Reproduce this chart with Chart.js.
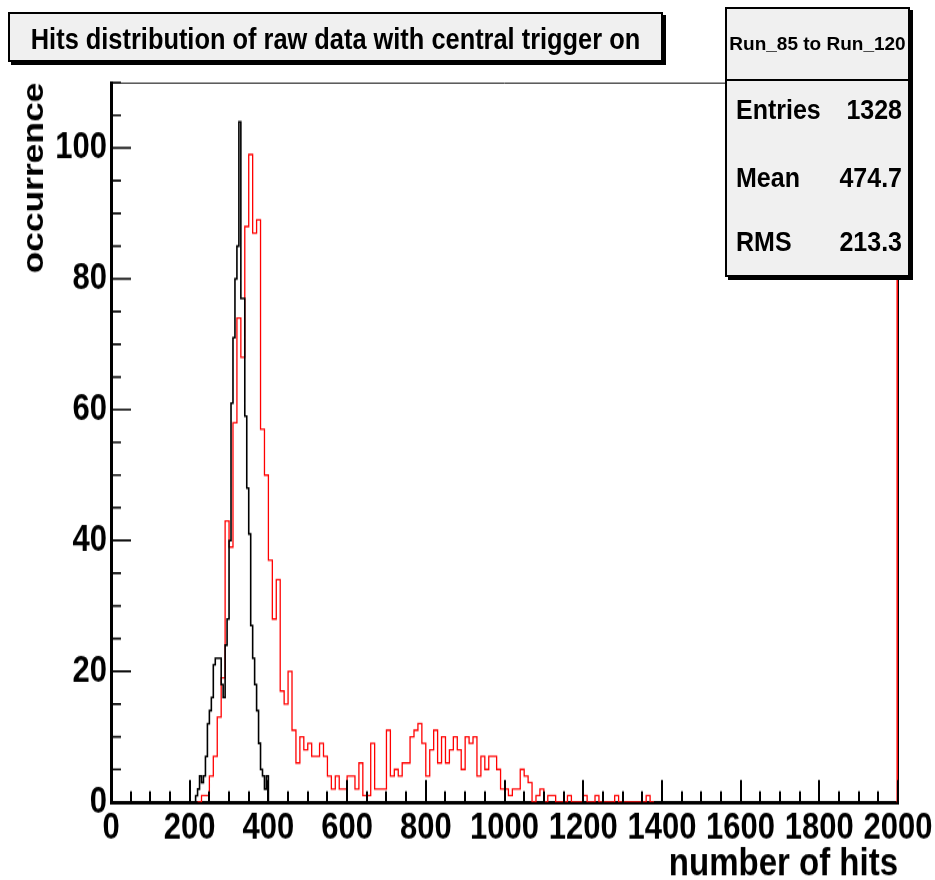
<!DOCTYPE html>
<html>
<head>
<meta charset="utf-8">
<script src="https://cdn.jsdelivr.net/npm/chart.js@4.4.1/dist/chart.umd.min.js"></script>
<style>
  html, body { margin: 0; padding: 0; background: #fff; }
  #wrap { position: relative; width: 935px; height: 880px; overflow: hidden; }
  /* the reference picture is slightly stretched vertically; the canvas is drawn at 746px and shown at 880px */
  #cw { position: absolute; left: 0; top: 0; width: 935px; height: 746px; transform-origin: 0 0; transform: scaleY(1.17962); }
  .box { position: absolute; background: #f0f0f0; border: 2px solid #000; box-shadow: 3px 3px 0 #000;
         font-family: "Liberation Sans", Arial, Helvetica, sans-serif; font-weight: bold; color: #000; box-sizing: border-box; }
  #title { left: 8px; top: 12px; width: 655px; height: 50px; }
  #title span { position: absolute; left: 0; right: 0; top: 9px; text-align: center; font-size: 25.4px; line-height: 30px;
                white-space: nowrap; transform: scaleY(1.18); }
  #stats { left: 725px; top: 7px; width: 185px; height: 270px; }
  #shead { position: absolute; left: 0; right: 0; top: 0; height: 70px; border-bottom: 2px solid #000;
           text-align: center; font-size: 19px; line-height: 70px; white-space: nowrap; }
  .row { position: absolute; left: 9px; right: 6px; height: 30px; line-height: 30px; font-size: 25px; transform: scaleY(1.12); }
  .row .k { position: absolute; left: 0; }
  .row .v { position: absolute; right: 0; }
</style>
</head>
<body>
<div id="wrap">
  <div id="cw"><canvas id="c" width="935" height="746"></canvas></div>
  <div id="title" class="box"><span id="titleText"></span></div>
  <div id="stats" class="box">
    <div id="shead"></div>
    <div class="row" style="top:85px"><span class="k"></span><span class="v"></span></div>
    <div class="row" style="top:153px"><span class="k"></span><span class="v"></span></div>
    <div class="row" style="top:217px"><span class="k"></span><span class="v"></span></div>
  </div>
</div>
<script>
// ---------------- data ----------------
const chartTitle = "Hits distribution of raw data with central trigger on";
const statsTitle = "Run_85 to Run_120";
const statsNames = ["Entries", "Mean", "RMS"];
const statsValues = ["1328", "474.7", "213.3"];

const xTitle = "number of hits";
const yTitle = "occurrence";
const xMin = 0, xMax = 2000;
const yMin = 0, yMax = 110;
const xTickValues = [0, 200, 400, 600, 800, 1000, 1200, 1400, 1600, 1800, 2000];
const yTickValues = [0, 20, 40, 60, 80, 100];
const xMajorStep = 200, xMinorStep = 50;
const yMajorStep = 20, yMinorStep = 5;

// red histogram: bins of 10 hits, first bin starts at 220
const redBinStart = 220;
const redBinWidth = 10;
const redCounts = [
  0, 1, 1, 4, 7, 13, 19, 43, 39, 58,          // 220-310
  74, 68, 88, 99, 87, 89, 57, 50, 37, 28,     // 320-410
  34, 17, 15, 20, 11, 6, 10, 8, 9, 7,         // 420-510
  7, 9, 7, 4, 2, 4, 2, 2, 4, 4,               // 520-610
  2, 6, 1, 1, 9, 2, 2, 2, 11, 4,              // 620-710
  5, 4, 6, 6, 10, 11, 12, 9, 4, 8,            // 720-810
  11, 6, 10, 6, 8, 10, 8, 5, 10, 9,           // 820-910
  10, 4, 7, 5, 7, 7, 5, 2, 2, 1,              // 920-1010
  2, 2, 5, 4, 3, 0, 1, 2, 0, 1,               // 1020-1110
  1, 0, 0, 0, 1, 0, 0, 0, 1, 0,               // 1120-1210
  0, 1, 0, 0, 0, 0, 1, 0, 0, 0,               // 1220-1310
  0, 0, 0, 0, 1, 0                            // 1320-1370
];

// black histogram: bins of 5 hits, first bin starts at 210
const blackBinStart = 210;
const blackBinWidth = 5;
const blackCounts = [
  0, 1, 2, 4, 3, 4, 7, 12, 14, 16,            // 210-255
  21, 22, 22, 22, 18, 16, 24, 28, 40, 61,     // 260-305
  71, 80, 85, 104, 77, 77, 59, 48, 41, 27,    // 310-355
  22, 18, 14, 9, 5, 4, 2, 4, 0                // 360-400
];

// ---------------- helpers ----------------
function histPoints(start, width, counts) {
  const pts = counts.map((c, i) => ({ x: start + i * width, y: c }));
  pts.push({ x: start + counts.length * width, y: 0 });
  return pts;
}

document.getElementById('titleText').textContent = chartTitle;
document.getElementById('shead').textContent = statsTitle;
document.querySelectorAll('#stats .row').forEach((r, i) => {
  r.querySelector('.k').textContent = statsNames[i];
  r.querySelector('.v').textContent = statsValues[i];
});

const RED = '#ff0000';
const FONT = '"Liberation Sans", Arial, Helvetica, sans-serif';
const STRETCH = 880 / 746;   // vertical display stretch of the canvas

const frameAndTicks = {
  id: 'frameAndTicks',
  afterDatasetsDraw(chart) {
    const { ctx, chartArea: a, scales: { x, y } } = chart;
    ctx.save();
    ctx.strokeStyle = '#000';
    ctx.lineWidth = 1 / STRETCH;
    ctx.beginPath();
    ctx.moveTo(a.left, a.top + 0.5);
    ctx.lineTo(a.right, a.top + 0.5);
    ctx.stroke();
    ctx.lineWidth = 1;
    ctx.beginPath();
    ctx.moveTo(a.right + 0.5, a.top);
    ctx.lineTo(a.right + 0.5, a.bottom);
    ctx.stroke();
    ctx.strokeStyle = RED;
    ctx.lineWidth = 1.5;
    ctx.beginPath();
    ctx.moveTo(a.right - 0.8, a.top);
    ctx.lineTo(a.right - 0.8, a.bottom);
    ctx.stroke();
    // tick marks drawn inside the frame
    ctx.strokeStyle = '#000';
    ctx.lineWidth = 2;
    ctx.beginPath();
    for (let v = xMin; v <= xMax; v += xMinorStep) {
      const px = Math.round(x.getPixelForValue(v));
      const len = ((v % xMajorStep === 0) ? 22 : 11) / STRETCH;
      ctx.moveTo(px, a.bottom);
      ctx.lineTo(px, a.bottom - len);
    }
    ctx.stroke();
    ctx.lineWidth = 2 / STRETCH;
    ctx.beginPath();
    for (let v = yMin; v <= yMax; v += yMinorStep) {
      const py = y.getPixelForValue(v);
      const len = (v % yMajorStep === 0) ? 20 : 10;
      ctx.moveTo(a.left, py);
      ctx.lineTo(a.left + len, py);
    }
    ctx.stroke();
    ctx.restore();
  }
};

new Chart(document.getElementById('c'), {
  type: 'line',
  data: {
    datasets: [
      {
        label: 'black',
        data: histPoints(blackBinStart, blackBinWidth, blackCounts),
        borderColor: '#000',
        borderWidth: 1.6,
        stepped: true,
        pointRadius: 0,
        fill: false,
        tension: 0
      },
      {
        label: 'red',
        data: histPoints(redBinStart, redBinWidth, redCounts),
        borderColor: RED,
        borderWidth: 1.3,
        stepped: true,
        pointRadius: 0,
        fill: false,
        tension: 0
      }
    ]
  },
  options: {
    responsive: false,
    maintainAspectRatio: false,
    animation: false,
    devicePixelRatio: 1,
    parsing: false,
    layout: { padding: { left: 0, top: 70, right: 37, bottom: 0 } },
    plugins: { legend: { display: false }, tooltip: { enabled: false } },
    scales: {
      x: {
        type: 'linear',
        min: xMin, max: xMax,
        afterBuildTicks: s => { s.ticks = xTickValues.map(v => ({ value: v })); },
        afterFit: s => { s.height = 66; s.paddingLeft = 0; s.paddingRight = 0; },
        grid: { display: false, drawTicks: false },
        border: { display: true, color: '#000', width: 3 },
        ticks: {
          autoSkip: false, maxRotation: 0, minRotation: 0, padding: 4,
          color: '#000',
          font: { family: FONT, size: 31, weight: 'bold' },
          callback: v => String(v)
        },
        title: {
          display: true, text: xTitle, align: 'end', color: '#000',
          font: { family: FONT, size: 33, weight: 'bold', lineHeight: 0.8 },
          padding: { top: 0, bottom: 0 }
        }
      },
      y: {
        type: 'linear',
        min: yMin, max: yMax,
        afterBuildTicks: s => { s.ticks = yTickValues.map(v => ({ value: v })); },
        afterFit: s => { s.width = 111; },
        grid: { display: false, drawTicks: false },
        border: { display: true, color: '#000', width: 3 },
        ticks: {
          autoSkip: false, padding: 4, color: '#000',
          font: { family: FONT, size: 31, weight: 'bold' },
          callback: v => String(v)
        },
        title: {
          display: true, text: yTitle, align: 'end', color: '#000',
          font: { family: FONT, size: 30, weight: 'bold' },
          padding: { top: 17, bottom: 0 }
        }
      }
    }
  },
  plugins: [frameAndTicks]
});
</script>
</body>
</html>
